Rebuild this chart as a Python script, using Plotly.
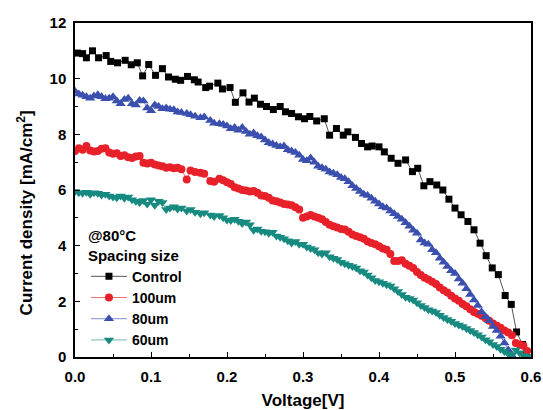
import plotly.graph_objects as go

# Control (black squares)
v_control = [0.003, 0.010, 0.015, 0.023, 0.031, 0.041, 0.047, 0.056, 0.066, 0.074, 0.082, 0.089,
             0.097, 0.106, 0.115, 0.123, 0.132, 0.139, 0.148, 0.157, 0.162, 0.172, 0.177, 0.188,
             0.194, 0.204, 0.211, 0.221, 0.229, 0.236, 0.244, 0.252, 0.261, 0.270, 0.277, 0.285,
             0.294, 0.302, 0.309, 0.318, 0.328, 0.335, 0.344, 0.353, 0.359, 0.369, 0.377, 0.385,
             0.391, 0.400, 0.407, 0.416, 0.425, 0.435, 0.444, 0.451, 0.459, 0.467, 0.476, 0.484,
             0.492, 0.500, 0.508, 0.517, 0.525, 0.533, 0.541, 0.549, 0.557, 0.566, 0.574, 0.581,
             0.589, 0.594]
j_control = [10.92, 10.90, 10.75, 11.00, 10.75, 10.83, 10.62, 10.57, 10.66, 10.50, 10.57, 10.10,
             10.51, 10.12, 10.36, 10.06, 9.98, 9.94, 10.08, 9.96, 9.88, 9.68, 9.73, 9.84,
             9.63, 9.68, 9.15, 9.49, 9.16, 9.30, 9.08, 9.00, 8.89, 9.00, 8.81, 8.75,
             8.63, 8.56, 8.64, 8.48, 8.56, 7.97, 8.21, 7.97, 8.09, 7.89, 7.67, 7.55,
             7.58, 7.55, 7.37, 7.14, 6.96, 7.08, 6.66, 6.78, 6.15, 6.30, 6.18, 6.00,
             5.67, 5.35, 5.11, 4.87, 4.57, 4.09, 3.64, 3.20, 2.96, 2.21, 1.89, 0.90,
             0.45, 0.16]

# Common voltage grid for the three spacing series
v_grid = [0.000, 0.005, 0.010, 0.015, 0.020, 0.025, 0.030, 0.035, 0.040, 0.045, 0.050, 0.055,
          0.060, 0.065, 0.070, 0.075, 0.080, 0.085, 0.090, 0.095, 0.100, 0.105, 0.110, 0.115,
          0.120, 0.125, 0.130, 0.135, 0.140, 0.147, 0.152, 0.158, 0.165, 0.170, 0.178, 0.183,
          0.190, 0.195, 0.200, 0.205, 0.210, 0.215, 0.220, 0.225, 0.230, 0.235, 0.240, 0.245,
          0.250, 0.255, 0.260, 0.265, 0.270, 0.275, 0.280, 0.285, 0.290, 0.295, 0.300, 0.305,
          0.310, 0.315, 0.320, 0.325, 0.330, 0.335, 0.340, 0.345, 0.350, 0.355, 0.360, 0.365,
          0.370, 0.375, 0.380, 0.385, 0.390, 0.395, 0.400, 0.405, 0.410, 0.415, 0.420, 0.425,
          0.430, 0.435, 0.440, 0.445, 0.450, 0.455, 0.460, 0.465, 0.470, 0.475, 0.480, 0.485,
          0.490, 0.495, 0.500, 0.505, 0.510, 0.515, 0.520, 0.525, 0.530, 0.535, 0.540, 0.545,
          0.550, 0.555, 0.560, 0.565, 0.570, 0.575, 0.580, 0.585, 0.590, 0.595]

j_100 = [7.40, 7.50, 7.45, 7.58, 7.42, 7.38, 7.40, 7.48, 7.50, 7.35, 7.30, 7.32,
         7.22, 7.25, 7.18, 7.15, 7.20, 7.22, 6.98, 6.95, 6.98, 6.92, 6.88, 6.85,
         6.80, 6.82, 6.78, 6.80, 6.75, 6.38, 6.70, 6.65, 6.62, 6.58, 6.32, 6.30,
         6.40, 6.35, 6.28, 6.22, 6.10, 6.05, 6.00, 5.98, 5.95, 5.96, 5.90, 5.80,
         5.78, 5.72, 5.62, 5.60, 5.55, 5.50, 5.48, 5.45, 5.38, 5.30, 5.00, 5.05,
         5.10, 5.05, 5.00, 4.95, 4.85, 4.75, 4.70, 4.65, 4.60, 4.58, 4.50, 4.40,
         4.35, 4.30, 4.25, 4.15, 4.10, 4.05, 3.98, 3.90, 3.85, 3.70, 3.45, 3.45,
         3.48, 3.35, 3.28, 3.20, 3.05, 2.95, 2.85, 2.78, 2.70, 2.62, 2.50, 2.40,
         2.32, 2.20, 2.10, 2.02, 1.90, 1.82, 1.72, 1.62, 1.55, 1.48, 1.40, 1.30,
         1.20, 1.12, 1.05, 0.95, 0.88, 0.78, 0.50, 0.45, 0.40, 0.22]

v_80 = v_grid[:116]
j_80 = [9.55, 9.45, 9.40, 9.35, 9.30, 9.38, 9.42, 9.35, 9.28, 9.30, 9.35, 9.20,
        9.10, 9.25, 9.30, 9.10, 9.05, 9.22, 9.20, 8.95, 8.85, 9.05, 9.00, 8.92,
        8.95, 8.90, 8.88, 8.80, 8.78, 8.75, 8.70, 8.65, 8.60, 8.62, 8.50, 8.40,
        8.38, 8.35, 8.30, 8.20, 8.25, 8.15, 8.25, 8.10, 8.00, 8.05, 7.95, 7.90,
        7.80, 7.70, 7.65, 7.60, 7.55, 7.58, 7.45, 7.40, 7.35, 7.25, 7.10, 7.05,
        7.15, 7.00, 6.85, 6.80, 6.75, 6.65, 6.60, 6.55, 6.45, 6.40, 6.30, 6.15,
        6.05, 5.95, 5.85, 5.80, 5.70, 5.60, 5.50, 5.40, 5.35, 5.25, 5.15, 5.05,
        4.95, 4.82, 4.70, 4.55, 4.45, 4.20, 4.10, 4.05, 3.85, 3.75, 3.55, 3.40,
        3.25, 3.10, 3.00, 2.80, 2.65, 2.45, 2.25, 2.05, 1.85, 1.62, 1.45, 1.30,
        1.10, 0.95, 0.75, 0.50, 0.25, 0.05]

j_60 = [5.95, 5.90, 5.88, 5.92, 5.85, 5.90, 5.88, 5.82, 5.85, 5.78, 5.75, 5.72,
        5.78, 5.70, 5.75, 5.65, 5.60, 5.55, 5.62, 5.50, 5.65, 5.45, 5.60, 5.55,
        5.30, 5.35, 5.40, 5.32, 5.35, 5.25, 5.30, 5.20, 5.15, 5.18, 5.10, 5.05,
        5.08, 5.00, 4.92, 4.90, 4.95, 4.88, 4.80, 4.85, 4.75, 4.55, 4.60, 4.52,
        4.50, 4.45, 4.48, 4.35, 4.30, 4.25, 4.18, 4.10, 4.15, 4.05, 4.05, 3.95,
        3.90, 3.85, 3.75, 3.70, 3.75, 3.60, 3.55, 3.50, 3.40, 3.35, 3.30, 3.25,
        3.20, 3.10, 3.05, 2.95, 2.85, 2.75, 2.70, 2.65, 2.60, 2.55, 2.45, 2.35,
        2.25, 2.15, 2.10, 2.05, 1.95, 1.85, 1.78, 1.70, 1.65, 1.60, 1.50, 1.42,
        1.35, 1.28, 1.20, 1.15, 1.10, 1.02, 0.95, 0.88, 0.80, 0.72, 0.62, 0.55,
        0.45, 0.38, 0.28, 0.20, 0.12, 0.08, 0.25, 0.15, 0.05, 0.02]

FONT = "Liberation Sans, Arial, sans-serif"

fig = go.Figure()
series = [
    ("Control", v_control, j_control, "square", "#000000", "#555555", 7),
    ("100um", v_grid, j_100, "circle", "#e8202a", "#f07070", 8),
    ("80um", v_80, j_80, "triangle-up", "#3a4fae", "#7f8fd0", 9),
    ("60um", v_grid, j_60, "triangle-down", "#178a80", "#70b8b0", 9),
]
for name, xs, ys, sym, col, lcol, sz in series:
    fig.add_trace(go.Scatter(
        x=xs, y=ys, mode="lines+markers", name=name,
        line=dict(color=lcol, width=1),
        marker=dict(symbol=sym, color=col, size=sz, line=dict(width=0)),
    ))

axis_common = dict(
    showline=True, linecolor="black", linewidth=1.5, mirror=True,
    ticks="inside", ticklen=5, tickwidth=1.2, tickcolor="black",
    showgrid=False, zeroline=False, automargin=False,
    tickfont=dict(family=FONT, size=15, color="black", weight="bold"),
)

fig.update_xaxes(
    range=[0, 0.6], dtick=0.1, tick0=0, tickformat=".1f", ticklabelstandoff=5,
    minor=dict(dtick=0.05, ticks="inside", ticklen=3, tickcolor="black"),
    title=dict(text="Voltage[V]", font=dict(family=FONT, size=17, color="black", weight="bold"),
               standoff=17),
    **axis_common,
)
fig.update_yaxes(
    range=[0, 12], dtick=2, tick0=0, ticklabelstandoff=4,
    minor=dict(dtick=1, ticks="inside", ticklen=3, tickcolor="black"),
    **axis_common,
)

fig.add_annotation(
    text="Current density [mA/cm<sup>2</sup>]", textangle=-90,
    xref="paper", yref="paper", x=0, y=0.43, xshift=-50, xanchor="center", yanchor="middle",
    showarrow=False, font=dict(family=FONT, size=17, color="black", weight="bold"),
)

fig.update_layout(
    width=543, height=410,
    margin=dict(l=75, r=12, t=23, b=53),
    paper_bgcolor="white", plot_bgcolor="white",
    legend=dict(
        x=0.024, y=0.405, xanchor="left", yanchor="top",
        title=dict(text="@80°C<br>Spacing size",
                   font=dict(family=FONT, size=15, color="black", weight="bold")),
        font=dict(family=FONT, size=14, color="black", weight="bold"),
        bgcolor="rgba(0,0,0,0)", itemwidth=36, tracegroupgap=0,
    ),
)

fig.write_html("out.html")
